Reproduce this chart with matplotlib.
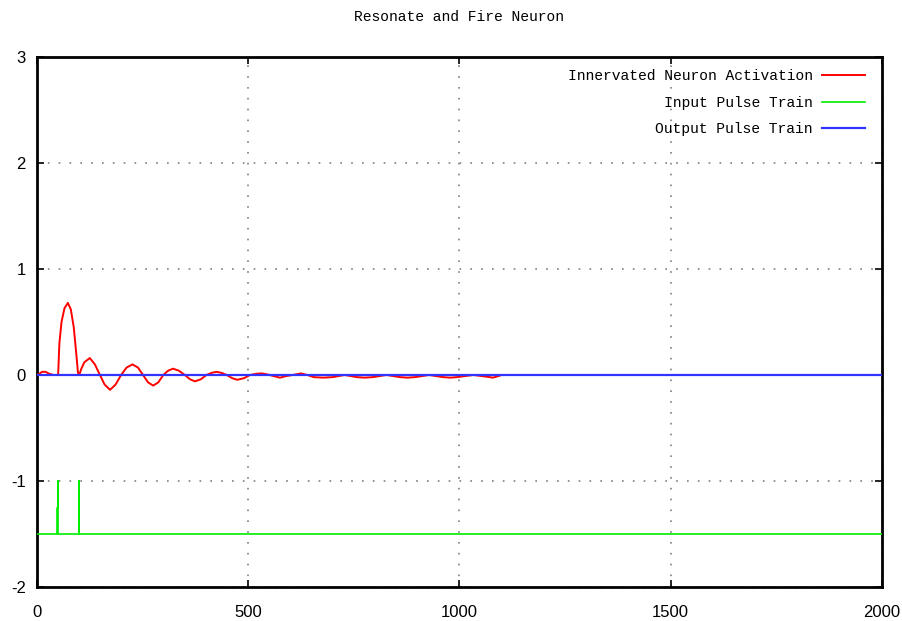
import matplotlib
matplotlib.use("Agg")
import matplotlib.pyplot as plt

plt.rcParams["axes.unicode_minus"] = False

# ---- data ----
act_t = [0, 5, 12, 20, 30, 40, 50, 53, 58, 65, 73, 80, 87, 93, 97, 100,
         105, 112, 125, 137, 149, 160, 173, 186, 199, 212, 226, 239, 251,
         263, 275, 287, 299, 310, 322, 336, 350, 362, 374, 388, 401, 413,
         425, 437, 449, 462, 474, 490, 504, 520, 532, 546, 560, 575, 590,
         605, 625, 640, 655, 677, 700, 728, 757, 776, 795, 827, 859, 877,
         895, 928, 961, 978, 994, 1033, 1072, 1078, 1084, 1100, 2000]
act_v = [0.0, 0.01, 0.03, 0.03, 0.01, 0.0, 0.0, 0.30, 0.50, 0.63, 0.68, 0.62,
         0.45, 0.20, 0.02, 0.0, 0.06, 0.12, 0.16, 0.10, 0.0, -0.09, -0.14,
         -0.09, 0.0, 0.07, 0.10, 0.07, 0.0, -0.07, -0.10, -0.07, 0.0, 0.04,
         0.06, 0.04, 0.0, -0.04, -0.06, -0.04, 0.0, 0.02, 0.03, 0.02, 0.0,
         -0.03, -0.045, -0.03, 0.0, 0.012, 0.015, 0.005, -0.01, -0.025, -0.01,
         0.0, 0.015, 0.0, -0.02, -0.025, -0.02, 0.0, -0.02, -0.025, -0.02,
         0.0, -0.02, -0.025, -0.02, 0.0, -0.02, -0.025, -0.02, 0.0, -0.02,
         -0.025, -0.02, 0.0, 0.0]

input_t = [0, 48, 48, 50, 50, 50, 99, 99, 99, 2000]
input_v = [-1.5, -1.5, -1.25, -1.25, -1.0, -1.5, -1.5, -1.0, -1.5, -1.5]

output_t = [0, 2000]
output_v = [0.0, 0.0]

labels = ["Innervated Neuron Activation", "Input Pulse Train", "Output Pulse Train"]
title = "Resonate and Fire Neuron"
xticks = [0, 500, 1000, 1500, 2000]
yticks = [-2, -1, 0, 1, 2, 3]

# ---- figure ----
mono = "Liberation Mono"
sans = "Liberation Sans"
fig = plt.figure(figsize=(9.03, 6.21), dpi=100)
ax = fig.add_axes([37/903, 1-587/621, (882-37)/903, (587-57)/621])

ax.plot(act_t, act_v, color="#ff0000", lw=1.4, label=labels[0], zorder=3)
ax.plot(input_t, input_v, color="#00ee00", lw=1.2, label=labels[1], zorder=3)
ax.plot(output_t, output_v, color="#3333ff", lw=1.6, label=labels[2], zorder=4)

ax.set_xlim(0, 2000)
ax.set_ylim(-2, 3)
ax.set_xticks(xticks)
ax.set_yticks(yticks)
ax.grid(True, color="#808080", linestyle=(0, (1, 5.5)), lw=1.2)
ax.tick_params(direction="in", length=5, width=1.2, top=True, right=True,
               labelsize=12)
ax.tick_params(axis="x", pad=13)
ax.tick_params(axis="y", pad=8)
for lab in ax.get_xticklabels() + ax.get_yticklabels():
    lab.set_fontfamily(sans)
for s in ax.spines.values():
    s.set_linewidth(2)
    s.set_color("black")

fig.text(459.5/903, 1-17/621, title, ha="center", va="center",
         fontsize=10.5, family=mono)

leg = ax.legend(loc="upper right", bbox_to_anchor=(1 - 5/845, 1),
                frameon=False, markerfirst=False,
                prop={"family": mono, "size": 10.5}, handlelength=2.9,
                handletextpad=0.65, labelspacing=0.85, borderaxespad=0.45)
for t in leg.get_texts():
    t.set_ha("right")
leg._legend_box.align = "right"

fig.savefig("out.png", dpi=100)
